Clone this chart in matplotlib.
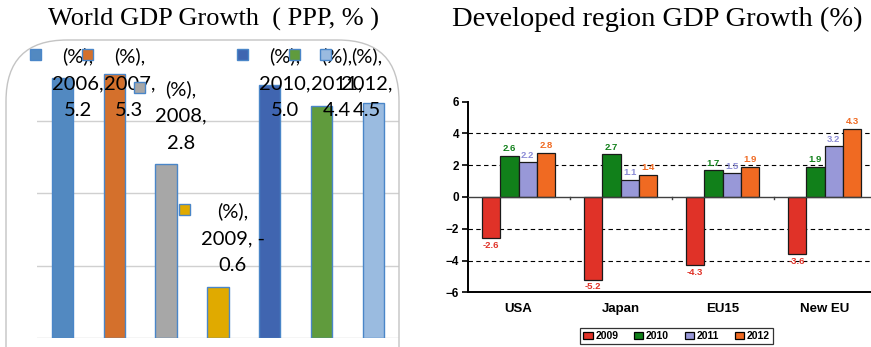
import matplotlib
matplotlib.use("Agg")
import matplotlib.pyplot as plt
from matplotlib.patches import FancyBboxPatch, Rectangle

# ---- World GDP growth (PPP, %) ----
world_years = ["2006", "2007", "2008", "2009", "2010", "2011", "2012"]
world_growth = [5.2, 5.3, 2.8, -0.6, 5.0, 4.4, 4.5]
world_colors = ["#5289c1", "#d4702c", "#a7a7a7", "#e0aa00", "#4065b0", "#609b3d", "#9abbe0"]

# ---- Developed regions GDP growth (%) ----
regions = ["USA", "Japan", "EU15", "New EU"]
region_years = ["2009", "2010", "2011", "2012"]
region_growth = {
    "2009": [-2.6, -5.2, -4.3, -3.6],
    "2010": [2.6, 2.7, 1.7, 1.9],
    "2011": [2.2, 1.1, 1.5, 3.2],
    "2012": [2.8, 1.4, 1.9, 4.3],
}
region_colors = ["#e03228", "#11801a", "#9898d8", "#f06a22"]

W, H = 871, 347
fig = plt.figure(figsize=(W / 100, H / 100), dpi=100)

# ================= left panel =================
frame = FancyBboxPatch((6 / W, -0.2), 393 / W, (H - 40) / H + 0.2,
                       boxstyle="round,pad=0,rounding_size=0.07",
                       transform=fig.transFigure, fill=False,
                       edgecolor="#c4c4c4", linewidth=1.0, mutation_aspect=W / H)
fig.patches.append(frame)

fig.text(213 / W, 1 - 19 / H, "World GDP Growth  ( PPP, % )",
         family="Liberation Serif", fontsize=19,
         ha="center", va="center")

axL = fig.add_axes([36.6 / W, 1 - 338 / H, 362.6 / W, (338 - 48.6) / H])
base = -2.0
xs = list(range(len(world_years)))
axL.bar(xs, [v - base for v in world_growth], bottom=base, width=0.41,
        color=world_colors, edgecolor="#4a86c8", linewidth=1.0, zorder=3)
axL.set_xlim(-0.5, len(world_years) - 0.5)
axL.set_ylim(-2, 6)
axL.set_yticks([-2, 0, 2, 4])
axL.yaxis.grid(True, color="#d0d0d0", linewidth=1.0, zorder=0)
axL.set_xticks([])
axL.tick_params(left=False, labelleft=False)
for s in axL.spines.values():
    s.set_visible(False)
axL.patch.set_visible(False)

# label placement: (text x offset, middle-line y, key x offset)
label_layout = [(0.29, 5.05, -0.62), (0.29, 5.05, -0.62), (0.29, 4.14, -0.62),
                (0.29, 0.76, -0.75), (0.29, 5.05, -0.63), (0.29, 5.05, -0.62),
                (-0.12, 5.05, -1.02)]
line_h = 27 / 36.17
for i, (yr, v) in enumerate(zip(world_years, world_growth)):
    dx, ymid, kx = label_layout[i]
    second = f"{yr}, -" if v < 0 else f"{yr},"
    txt = f"(%),\n{second}\n{abs(v):.1f}"
    axL.text(i + dx, ymid, txt, ha="center", va="center", fontsize=14.5,
             family="Lato", linespacing=1.7, zorder=5, clip_on=False)
    axL.add_patch(Rectangle((i + kx, ymid + line_h - 0.12), 11 / 51.8, 11 / 36.17,
                            facecolor=world_colors[i], edgecolor="#4a86c8",
                            linewidth=1.0, zorder=6, clip_on=False))

# ================= right panel =================
fig.text(657 / W, 1 - 19 / H, "Developed region GDP Growth (%)",
         family="Liberation Serif", fontsize=20.5, ha="center", va="center")

axR = fig.add_axes([467.5 / W, 1 - 292.3 / H, 408 / W, (292.3 - 101.7) / H])
bw = 0.18
for k, yr in enumerate(region_years):
    vals = region_growth[yr]
    pos = [c - 2 * bw + bw / 2 + k * bw for c in range(len(regions))]
    axR.bar(pos, vals, width=bw, color=region_colors[k], edgecolor="#1a1a1a",
            linewidth=0.9, zorder=3, label=yr)
    lc = "#8c8cd6" if yr == "2011" else region_colors[k]
    for x, v in zip(pos, vals):
        off = 0.15 if v >= 0 else -0.15
        axR.text(x, v + off, f"{v:.1f}", ha="center",
                 va="bottom" if v >= 0 else "top", fontsize=6.8,
                 fontweight="bold", color=lc, family="Liberation Sans", zorder=5)

axR.set_xlim(-0.5, len(regions) - 0.5)
axR.set_ylim(-6, 6)
axR.set_yticks([-6, -4, -2, 0, 2, 4, 6])
for g in [-4, -2, 2, 4]:
    axR.axhline(g, color="black", linestyle=(0, (4, 3)), linewidth=0.8, zorder=1)
axR.axhline(0, color="#404040", linewidth=1.0, zorder=4)
for b in [0.5, 1.5, 2.5]:
    axR.plot([b, b], [0, -0.15], color="#404040", linewidth=1.0, zorder=4)
axR.set_xticks(range(len(regions)))
axR.set_xticklabels(regions)
axR.tick_params(axis="x", length=0, pad=8)
axR.tick_params(axis="y", length=4, width=1.2, pad=2)
for lab in axR.get_xticklabels():
    lab.set_fontweight("bold"); lab.set_fontsize(9.5); lab.set_family("Liberation Sans")
for lab in axR.get_yticklabels():
    lab.set_fontweight("bold"); lab.set_fontsize(8.5); lab.set_family("Liberation Sans")
axR.spines["top"].set_visible(False)
axR.spines["right"].set_visible(False)
axR.spines["left"].set_linewidth(1.4)
axR.spines["bottom"].set_linewidth(1.4)

leg = fig.legend(loc="center", bbox_to_anchor=(676.5 / W, 1 - 336 / H), ncol=4,
                 frameon=True, fancybox=False, edgecolor="black",
                 prop={"family": "Liberation Sans", "weight": "bold", "size": 7.5},
                 handlelength=0.9, handleheight=0.7, handletextpad=0.25,
                 columnspacing=1.5, borderpad=0.3, borderaxespad=0)
leg.get_frame().set_linewidth(0.9)
for h in leg.legend_handles:
    h.set_edgecolor("black")

fig.savefig("out.png", dpi=100)
